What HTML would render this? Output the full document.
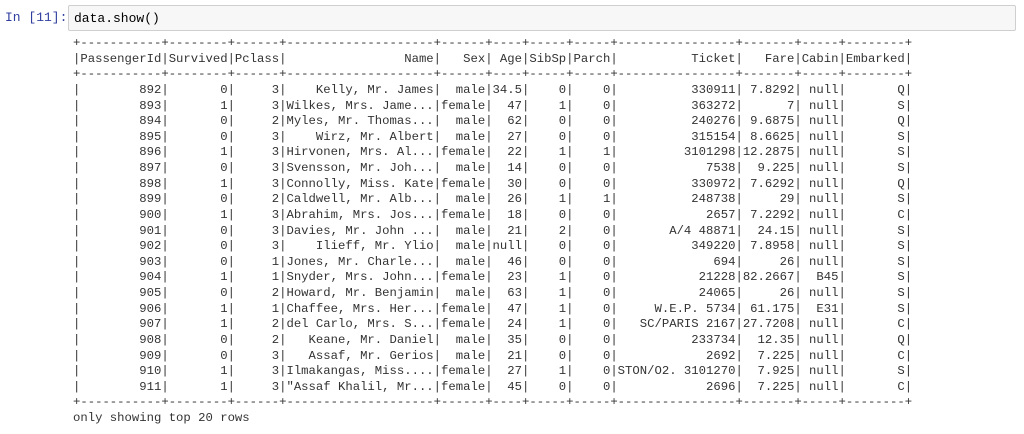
<!DOCTYPE html>
<html><head><meta charset="utf-8">
<style>
html,body{margin:0;padding:0;background:#fff;width:1024px;height:434px;overflow:hidden}
#prompt{position:absolute;left:5px;top:9px;font:13px/18px "Liberation Mono",monospace;color:#303F9F}
#input{position:absolute;left:68px;top:5px;width:948px;height:26px;background:#f7f7f7;border:1px solid #cfcfcf;border-radius:2px;box-sizing:border-box}
#code{position:absolute;left:5px;top:4px;font:13px/18px "Liberation Mono",monospace;color:#000}
#out{position:absolute;left:73px;top:36px;margin:0;font:12.27px/15.63px "Liberation Mono",monospace;color:#333;white-space:pre}
</style></head><body>
<div id="prompt">In [11]:</div>
<div id="input"><div id="code">data.show()</div></div>
<pre id="out"></pre>
<script>
const widths=[11,8,6,20,6,4,5,5,16,7,5,8];
const header=["PassengerId","Survived","Pclass","Name","Sex","Age","SibSp","Parch","Ticket","Fare","Cabin","Embarked"];
const rows=[
["892","0","3","Kelly, Mr. James","male","34.5","0","0","330911","7.8292","null","Q"],
["893","1","3","Wilkes, Mrs. Jame...","female","47","1","0","363272","7","null","S"],
["894","0","2","Myles, Mr. Thomas...","male","62","0","0","240276","9.6875","null","Q"],
["895","0","3","Wirz, Mr. Albert","male","27","0","0","315154","8.6625","null","S"],
["896","1","3","Hirvonen, Mrs. Al...","female","22","1","1","3101298","12.2875","null","S"],
["897","0","3","Svensson, Mr. Joh...","male","14","0","0","7538","9.225","null","S"],
["898","1","3","Connolly, Miss. Kate","female","30","0","0","330972","7.6292","null","Q"],
["899","0","2","Caldwell, Mr. Alb...","male","26","1","1","248738","29","null","S"],
["900","1","3","Abrahim, Mrs. Jos...","female","18","0","0","2657","7.2292","null","C"],
["901","0","3","Davies, Mr. John ...","male","21","2","0","A/4 48871","24.15","null","S"],
["902","0","3","Ilieff, Mr. Ylio","male","null","0","0","349220","7.8958","null","S"],
["903","0","1","Jones, Mr. Charle...","male","46","0","0","694","26","null","S"],
["904","1","1","Snyder, Mrs. John...","female","23","1","0","21228","82.2667","B45","S"],
["905","0","2","Howard, Mr. Benjamin","male","63","1","0","24065","26","null","S"],
["906","1","1","Chaffee, Mrs. Her...","female","47","1","0","W.E.P. 5734","61.175","E31","S"],
["907","1","2","del Carlo, Mrs. S...","female","24","1","0","SC/PARIS 2167","27.7208","null","C"],
["908","0","2","Keane, Mr. Daniel","male","35","0","0","233734","12.35","null","Q"],
["909","0","3","Assaf, Mr. Gerios","male","21","0","0","2692","7.225","null","C"],
["910","1","3","Ilmakangas, Miss....","female","27","1","0","STON/O2. 3101270","7.925","null","S"],
["911","1","3","\"Assaf Khalil, Mr...","female","45","0","0","2696","7.225","null","C"]
];
const sep="+"+widths.map(w=>"-".repeat(w)).join("+")+"+";
const fmt=r=>"|"+r.map((v,i)=>v.padStart(widths[i])).join("|")+"|";
const lines=[sep,fmt(header),sep,...rows.map(fmt),sep,"only showing top 20 rows"];
document.getElementById('out').textContent=lines.join("\n");
</script>
</body></html>
